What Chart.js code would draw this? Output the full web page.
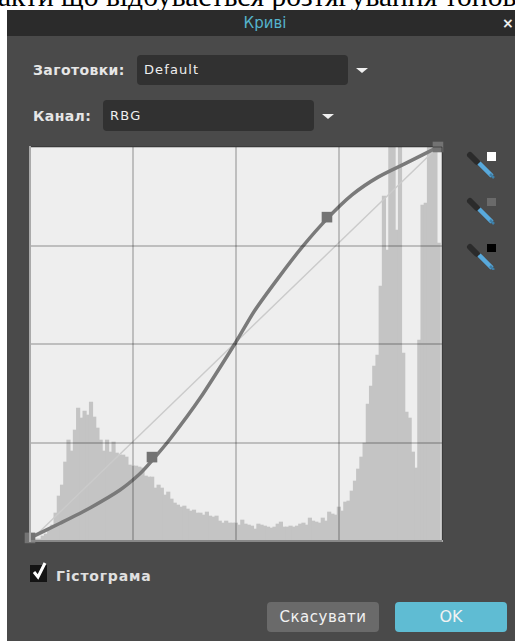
<!DOCTYPE html>
<html lang="uk">
<head>
<meta charset="utf-8">
<title>Криві</title>
<script src="https://cdn.jsdelivr.net/npm/chart.js@4"></script>
<style>
html,body{margin:0;padding:0;width:515px;height:641px;overflow:hidden;background:#fff}
#top{position:absolute;left:-2px;top:-19px;width:540px;white-space:nowrap;font:29.5px "Liberation Serif",serif;color:#000;line-height:30px}
#dlg{position:absolute;left:7px;top:10px;width:508px;height:631px;background:#4a4a4a;overflow:hidden}
#bar{position:absolute;left:7px;top:10px;width:508px;height:26px;background:#2b2b2b}
.t{position:absolute;font-family:"DejaVu Sans",sans-serif;white-space:nowrap;line-height:16px}
.box{position:absolute;background:#313131;border-radius:4px}
.arrow{position:absolute;width:0;height:0;border-left:6px solid transparent;border-right:6px solid transparent;border-top:5px solid #f0f0f0}
#plot{position:absolute;left:30px;top:147px;width:412px;height:394px;background:#eeeeee}
#wrap{position:absolute;left:20px;top:137px;width:432px;height:414px}
.btn{position:absolute;top:602px;width:112px;height:30px;border-radius:4px;text-align:center;line-height:30px;font-family:"DejaVu Sans",sans-serif;color:#f2f2f2}
svg{position:absolute}
</style>
</head>
<body>
<div id="top">акти що відбувається розтягування тонов</div>
<div id="dlg"></div>
<div id="bar"></div>
<div class="t" style="left:0;width:530px;text-align:center;top:15px;font-size:15px;color:#55b3cc">Криві</div>
<div class="t" style="left:502px;top:15px;font-size:14px;font-weight:bold;color:#eee">×</div>

<div class="t" style="left:33px;top:62px;font-size:14px;letter-spacing:.4px;font-weight:bold;color:#e6e6e6">Заготовки:</div>
<div class="box" style="left:137px;top:55px;width:211px;height:30px"></div>
<div class="t" style="left:144px;top:62px;font-size:13px;letter-spacing:1.1px;color:#eee">Default</div>
<div class="arrow" style="left:356px;top:68px"></div>

<div class="t" style="left:33px;top:108px;font-size:14px;letter-spacing:.4px;font-weight:bold;color:#e6e6e6">Канал:</div>
<div class="box" style="left:103px;top:100px;width:211px;height:31px"></div>
<div class="t" style="left:110px;top:108px;font-size:13px;letter-spacing:1.3px;color:#eee">RBG</div>
<div class="arrow" style="left:322px;top:114px"></div>

<div id="plot"></div>
<div id="wrap"><canvas id="c" width="432" height="414"></canvas></div>

<svg style="left:460px;top:145px" width="50" height="125" viewBox="0 0 50 125">
  <g id="d">
    <path d="M10 10 L17 17" stroke="#2b2b2b" stroke-width="6" stroke-linecap="round"/>
    <path d="M19 18 L32 31" stroke="#58a9dc" stroke-width="4.5"/>
    <path d="M30 29 L34 33" stroke="#3f7fa8" stroke-width="2.5"/>
  </g>
  <use href="#d" y="46"/><use href="#d" y="92"/>
  <rect x="27" y="7" width="9" height="9" fill="#ffffff"/>
  <rect x="27" y="53" width="9" height="8" fill="#6a6a6a"/>
  <rect x="27" y="99" width="9" height="8" fill="#000000"/>
</svg>

<div style="position:absolute;left:30px;top:565px;width:17px;height:17px;background:#141414"></div>
<svg style="left:30px;top:560px" width="20" height="22" viewBox="0 0 20 22"><path d="M4 12 L8 17 L15 3" fill="none" stroke="#fff" stroke-width="3"/></svg>
<div class="t" style="left:56px;top:568px;font-size:14px;letter-spacing:.8px;font-weight:bold;color:#e0e0e0">Гістограма</div>

<div class="btn" style="left:267px;background:#6a6a6a;font-size:15px;letter-spacing:.5px">Скасувати</div>
<div class="btn" style="left:395px;background:#5fbcd3;font-size:16px">OK</div>

<script>
const histogramBins = [
  0,0,2,2,5,7,12,16,28,45,
  56,79,101,90,111,133,123,130,126,139,
  124,113,101,90,101,89,99,88,86,86,
  84,76,75,75,74,73,65,64,64,53,
  56,53,46,49,42,38,36,34,35,32,
  30,31,28,28,26,29,25,24,25,20,
  18,20,18,18,18,16,21,17,16,15,
  12,17,16,15,14,13,14,17,19,14,
  14,15,14,15,17,18,16,23,20,19,
  18,23,20,29,27,26,34,30,39,40,
  50,60,72,84,98,137,155,175,186,255,
  345,291,394,394,311,394,188,129,123,89,
  73,201,336,338,394,394,394,298
];
const histogramMax = 394;
const curveInput  = [0,18.6,37.1,55.7,68,75.5,86.7,105,127,139,153.5,168.4,183.8,199.3,215.4,234,252.5];
const curveOutput = [2,11.5,21.4,33,43.5,52,66,92,128,149,170,190.2,208.5,224,235.5,245.2,255];
const controlInput  = [0,75.5,183.8,252.5];
const controlOutput = [2,54.3,209.6,255];
const diagonalInput  = [0,252.5];
const diagonalOutput = [0,255];
const gridStep = 63.75;

const zip = (a,b) => a.map((v,i) => ({x:v,y:b[i]}));

new Chart(document.getElementById('c'), {
  type:'bar',
  data:{
    labels: histogramBins.map((_,i)=>i),
    datasets:[
      {type:'bar',data:histogramBins,xAxisID:'x2',yAxisID:'y2',backgroundColor:'#c4c4c4',
       barThickness:3.5,borderWidth:0,order:3},
      {type:'line',data:zip(diagonalInput,diagonalOutput),xAxisID:'x',yAxisID:'y',borderColor:'#cbcbcb',borderWidth:1.5,pointRadius:0,order:2,clip:false},
      {type:'line',data:zip(curveInput,curveOutput),xAxisID:'x',yAxisID:'y',borderColor:'#7a7a7a',borderWidth:3.5,pointRadius:0,tension:0.25,order:1,clip:false},
      {type:'line',data:zip(controlInput,controlOutput),xAxisID:'x',yAxisID:'y',showLine:false,pointStyle:'rect',pointRadius:7.5,pointHoverRadius:7.5,
       pointBackgroundColor:'#737373',pointBorderWidth:0,order:0,clip:false}
    ]
  },
  options:{
    responsive:false,animation:false,devicePixelRatio:1,
    layout:{padding:10},
    plugins:{legend:{display:false},tooltip:{enabled:false},title:{display:false}},
    scales:{
      x:{type:'linear',min:0,max:255,offset:false,
         ticks:{display:false,stepSize:gridStep,autoSkip:false},
         grid:{offset:false,color:'rgba(0,0,0,0.2)',lineWidth:2,drawTicks:false,z:1},border:{display:true,color:'#aaaaaa',width:2,z:1}},
      y:{type:'linear',min:0,max:255,
         ticks:{display:false,stepSize:gridStep},
         grid:{color:'rgba(0,0,0,0.2)',lineWidth:2,drawTicks:false,z:1},border:{display:true,color:'#aaaaaa',width:2,z:1}},
      x2:{type:'category',display:false,offset:true,grid:{display:false}},
      y2:{type:'linear',display:false,min:0,max:histogramMax,grid:{display:false}}
    }
  }
});
</script>
</body>
</html>
